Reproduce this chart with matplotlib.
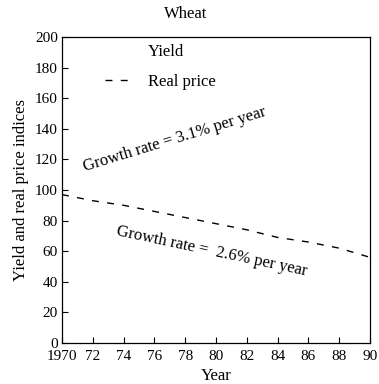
import matplotlib.pyplot as plt
from matplotlib.lines import Line2D

plt.rcParams['font.family'] = 'Liberation Serif'

# real price index
years = [1970, 1972, 1974, 1976, 1978, 1980, 1982, 1984, 1986, 1988, 1990]
real_price = [97, 93, 90, 86, 82, 78, 74, 69, 66, 62, 56]
xtick_labels = ['1970', '72', '74', '76', '78', '80', '82', '84', '86', '88', '90']
yticks = [0, 20, 40, 60, 80, 100, 120, 140, 160, 180, 200]

fig = plt.figure(figsize=(3.79, 3.84), dpi=100)
ax = fig.add_axes([0.1636, 0.1068, 0.8124, 0.7968])

ax.plot(years, real_price, color='k', lw=1.0, linestyle=(0, (5, 6)))

ax.set_xlim(1970, 1990)
ax.set_ylim(0, 200)
ax.set_xticks(years)
ax.set_xticklabels(xtick_labels)
ax.set_yticks(yticks)
ax.tick_params(direction='in', length=4, labelsize=11)
ax.tick_params(axis='x', pad=5)
ax.tick_params(axis='y', pad=3)
for s in ax.spines.values():
    s.set_linewidth(0.9)

ax.set_xlabel('Year', fontsize=12, labelpad=4)
ax.set_ylabel('Yield and real price indices', fontsize=12, labelpad=4)
fig.text(0.49, 0.963, 'Wheat', ha='center', va='center', fontsize=12)

handles = [Line2D([], [], color='none'),
           Line2D([], [], color='k', lw=1.0, linestyle=(0, (5, 6)))]
ax.legend(handles, ['Yield', 'Real price'], loc='upper left', frameon=False,
          fontsize=12, handlelength=1.8, labelspacing=0.8,
          bbox_to_anchor=(0.09, 1.025))

ax.text(1977.3, 133, 'Growth rate = 3.1% per year', rotation=17,
        ha='center', va='center', fontsize=12)
ax.text(1979.7, 60, 'Growth rate =  2.6% per year', rotation=-12,
        ha='center', va='center', fontsize=12)

fig.savefig('out.png', dpi=100)
